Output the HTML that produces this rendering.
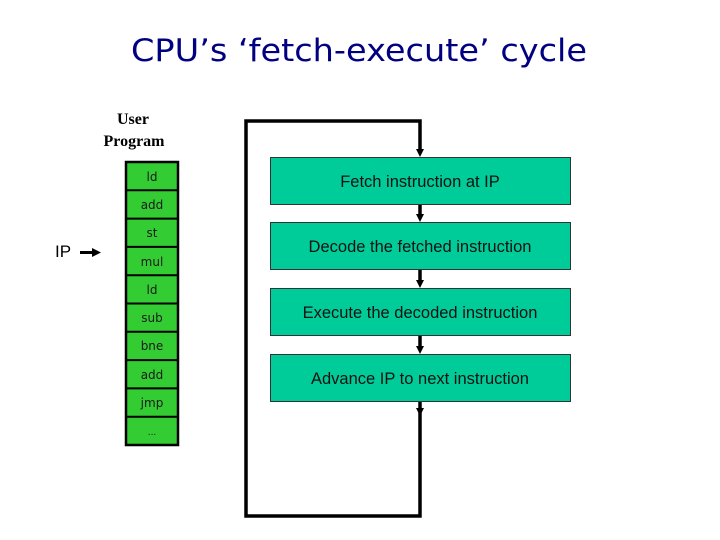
<!DOCTYPE html>
<html><head><meta charset="utf-8"><style>
html,body{margin:0;padding:0;background:#fff;width:720px;height:540px;overflow:hidden}
</style></head><body>
<svg width="720" height="540" xmlns="http://www.w3.org/2000/svg">
<text x="359" y="61" text-anchor="middle" font-family="'DejaVu Sans', sans-serif" font-size="31" fill="#000080" textLength="456" lengthAdjust="spacingAndGlyphs">CPU’s ‘fetch-execute’ cycle</text>
<text x="133" y="124" text-anchor="middle" font-family="'Liberation Serif', serif" font-weight="bold" font-size="16" fill="#000">User</text>
<text x="134" y="146" text-anchor="middle" font-family="'Liberation Serif', serif" font-weight="bold" font-size="16" fill="#000">Program</text>
<text x="55" y="257" font-family="'Liberation Sans', sans-serif" font-size="17" fill="#000">IP</text>
<line x1="80" y1="252.5" x2="94" y2="252.5" stroke="#000" stroke-width="3"/>
<polygon points="92,248 101,252.5 92,257" fill="#000"/>
<g font-family="'DejaVu Sans', sans-serif" font-size="12" fill="#1a1a1a" text-anchor="middle">
<rect x="126" y="162" width="52" height="283" fill="#33cc33" stroke="#000" stroke-width="2.5"/>
<g stroke="#000" stroke-width="2">
<line x1="126" y1="190.3" x2="178" y2="190.3"/>
<line x1="126" y1="218.6" x2="178" y2="218.6"/>
<line x1="126" y1="246.9" x2="178" y2="246.9"/>
<line x1="126" y1="275.2" x2="178" y2="275.2"/>
<line x1="126" y1="303.5" x2="178" y2="303.5"/>
<line x1="126" y1="331.8" x2="178" y2="331.8"/>
<line x1="126" y1="360.1" x2="178" y2="360.1"/>
<line x1="126" y1="388.4" x2="178" y2="388.4"/>
<line x1="126" y1="416.7" x2="178" y2="416.7"/>
</g>
<text x="152" y="181">ld</text>
<text x="152" y="209">add</text>
<text x="152" y="237">st</text>
<text x="152" y="266">mul</text>
<text x="152" y="294">ld</text>
<text x="152" y="322">sub</text>
<text x="152" y="350">bne</text>
<text x="152" y="379">add</text>
<text x="152" y="407">jmp</text>
<text x="152" y="435" font-size="9">...</text>
</g>
<polyline points="420,149 420,121 246,121 246,516 420,516 420,408" fill="none" stroke="#000" stroke-width="3.5"/>
<g fill="#00cc99" stroke="#333" stroke-width="1">
<rect x="270.5" y="157.5" width="300" height="47"/>
<rect x="270.5" y="222.5" width="300" height="47"/>
<rect x="270.5" y="288.5" width="300" height="47"/>
<rect x="270.5" y="354.5" width="300" height="47"/>
</g>
<g stroke="#000" stroke-width="3.5">
<line x1="420" y1="205" x2="420" y2="216"/>
<line x1="420" y1="270" x2="420" y2="282"/>
<line x1="420" y1="336" x2="420" y2="348"/>
<line x1="420" y1="402" x2="420" y2="410"/>
</g>
<g fill="#000">
<polygon points="416,149 424,149 420,157"/>
<polygon points="416,214 424,214 420,222"/>
<polygon points="416,280 424,280 420,288"/>
<polygon points="416,346 424,346 420,354"/>
<polygon points="416,408 424,408 420,416"/>
</g>
<g font-family="'Liberation Sans', sans-serif" font-size="16.5" fill="#111" text-anchor="middle">
<text x="420" y="187">Fetch instruction at IP</text>
<text x="420" y="252">Decode the fetched instruction</text>
<text x="420" y="318">Execute the decoded instruction</text>
<text x="420" y="384">Advance IP to next instruction</text>
</g>
</svg>
</body></html>
